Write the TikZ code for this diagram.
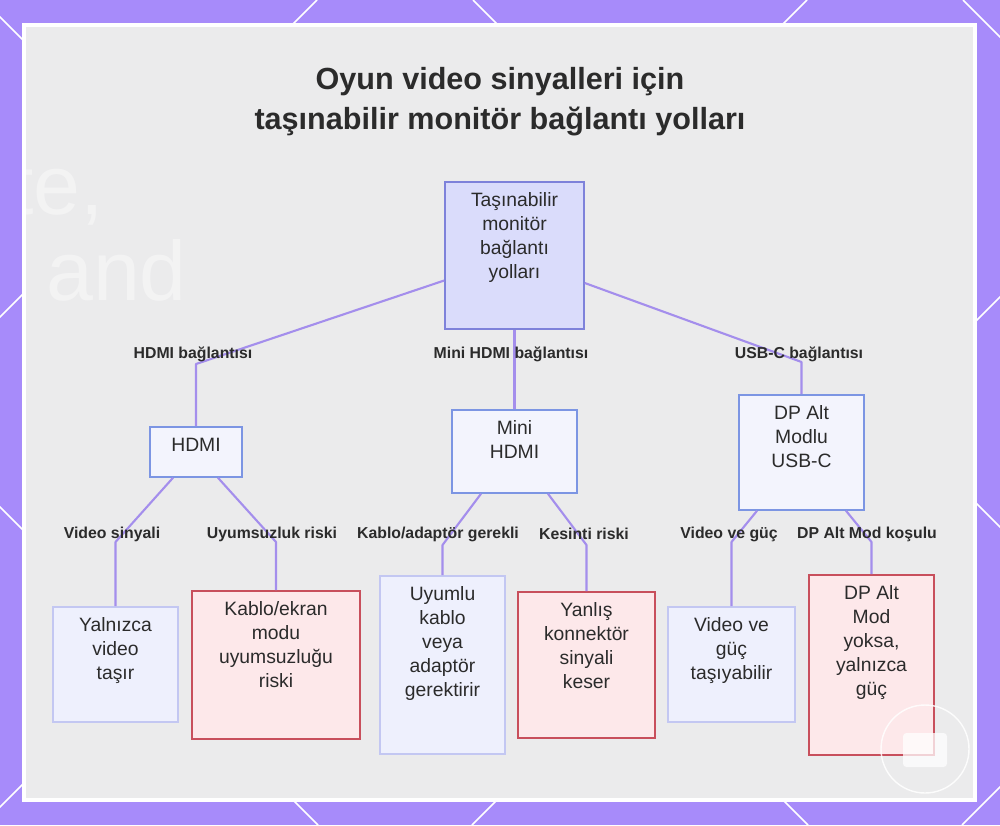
\documentclass[tikz,border=0pt]{standalone}
\usepackage{fontspec}
\setmainfont{Liberation Sans}
\usetikzlibrary{calc}
\definecolor{bgpurple}{HTML}{A78BFA}
\definecolor{panelgray}{HTML}{EBEBEC}
\definecolor{edgec}{HTML}{A48EEC}
\definecolor{rootfill}{HTML}{DADCFB}
\definecolor{rootline}{HTML}{7E82DA}
\definecolor{midfill}{HTML}{F3F4FD}
\definecolor{midline}{HTML}{7C95E3}
\definecolor{okfill}{HTML}{EEF0FD}
\definecolor{okline}{HTML}{C3C7F2}
\definecolor{riskfill}{HTML}{FDE8EA}
\definecolor{riskline}{HTML}{C84F5C}
\definecolor{txt}{HTML}{2B2B2B}
\newcommand{\boxtext}[3]{\parbox[c][#2][t]{#1}{\centering\fontsize{11}{13.6}\selectfont\rule{0pt}{14pt}#3}}
\tikzset{
  edge/.style={draw=edgec, line width=1.2pt, line join=round},
  rootbox/.style={draw=rootline, fill=rootfill, line width=0.9pt, inner sep=0pt, text=txt},
  midbox/.style={draw=midline, fill=midfill, line width=0.9pt, inner sep=0pt, text=txt},
  okbox/.style={draw=okline, fill=okfill, line width=0.9pt, inner sep=0pt, text=txt},
  riskbox/.style={draw=riskline, fill=riskfill, line width=0.9pt, inner sep=0pt, text=txt},
  elabel/.style={font=\bfseries\fontsize{9}{11}\selectfont, text=txt, inner sep=1pt},
}
\begin{document}
\begin{tikzpicture}[x=0.02cm, y=-0.02cm]
    \useasboundingbox (0,0) rectangle (1000,825);
    %% background
    \fill[bgpurple] (0,0) rectangle (1000,825);
    \begin{scope}
      \clip (0,0) rectangle (1000,825);
      \foreach \c in {317,807,1297,1787}
        \draw[white, line width=0.9pt] (\c,0) -- ($(\c,0)+(-825,825)$);
      \foreach \c in {-507,-17,473,963}
        \draw[white, line width=0.9pt] (\c,0) -- ($(\c,0)+(825,825)$);
    \end{scope}
    \draw[white, line width=2.3pt, fill=panelgray] (24,25) rectangle (975,800);
    \begin{scope}
      \clip (26,27) rectangle (973,798);
      \node[anchor=base west, text=white, opacity=0.4, font=\fontsize{48}{48}\selectfont] (bgand) at (40,300) {and};
      \node[anchor=base west, text=white, opacity=0.4, font=\fontsize{48}{48}\selectfont] (bgte) at (4,214) {te,};
    \end{scope}
    %% title
    \node[align=center, text=txt, font=\bfseries\fontsize{17.4}{22.7}\selectfont] (title) at (500,102)
      {Oyun video sinyalleri için\\taşınabilir monitör bağlantı yolları};
    %% boxes
    \node[rootbox] (root) at (514.5,255.5) {\boxtext{2.78cm}{2.94cm}{Taşınabilir\\monitör\\bağlantı\\yolları}};
    \node[midbox] (hdmi) at (196,452) {\boxtext{1.84cm}{1.0cm}{HDMI}};
    \node[midbox] (mini) at (514.5,451.5) {\boxtext{2.5cm}{1.66cm}{Mini\\HDMI}};
    \node[midbox] (dpalt) at (801.5,452.5) {\boxtext{2.5cm}{2.3cm}{DP Alt\\Modlu\\USB-C}};
    \node[okbox] (yaln) at (115.5,664.5) {\boxtext{2.5cm}{2.3cm}{Yalnızca\\video\\taşır}};
    \node[riskbox] (kablo) at (276,665) {\boxtext{3.36cm}{2.96cm}{Kablo/ekran\\modu\\uyumsuzluğu\\riski}};
    \node[okbox] (uyumlu) at (442.5,665) {\boxtext{2.5cm}{3.56cm}{Uyumlu\\kablo\\veya\\adaptör\\gerektirir}};
    \node[riskbox] (yanlis) at (586.5,665) {\boxtext{2.74cm}{2.92cm}{Yanlış\\konnektör\\sinyali\\keser}};
    \node[okbox] (videog) at (731.5,664.5) {\boxtext{2.54cm}{2.3cm}{Video ve\\güç\\taşıyabilir}};
    \node[riskbox] (dpmod) at (871.5,665) {\boxtext{2.5cm}{3.6cm}{DP Alt\\Mod\\yoksa,\\yalnızca\\güç}};
    %% bends
    \coordinate (bhdmi) at (196,364);
    \coordinate (bdpalt) at (801.5,362);
    \coordinate (byaln) at (115.5,542);
    \coordinate (bkablo) at (276,542);
    \coordinate (buyumlu) at (442.5,545);
    \coordinate (byanlis) at (586.5,545);
    \coordinate (bvideog) at (731.5,542);
    \coordinate (bdpmod) at (871.5,542);
    %% connectors
    \draw[edge] ($(root.west)+(0,25)$) -- (bhdmi) -- (hdmi.north);
    \draw[edge] (root.south) -- (mini.north);
    \draw[edge] ($(root.east)+(0,27.5)$) -- (bdpalt) -- (dpalt.north);
    \draw[edge] ($(hdmi.south)+(-23,0)$) -- (byaln) -- (yaln.north);
    \draw[edge] ($(hdmi.south)+(22,0)$) -- (bkablo) -- (kablo.north);
    \draw[edge] ($(mini.south)+(-33.5,0)$) -- (buyumlu) -- (uyumlu.north);
    \draw[edge] ($(mini.south)+(33.5,0)$) -- (byanlis) -- (yanlis.north);
    \draw[edge] ($(dpalt.south)+(-44.5,0)$) -- (bvideog) -- (videog.north);
    \draw[edge] ($(dpalt.south)+(44.5,0)$) -- (bdpmod) -- (dpmod.north);
    %% edge labels
    \node[elabel] (lhdmi) at (193,354) {HDMI bağlantısı};
    \node[elabel] (lmini) at (511,354) {Mini HDMI bağlantısı};
    \node[elabel] (lusbc) at (799,354) {USB-C bağlantısı};
    \node[elabel] (lyaln) at (112,534) {Video sinyali};
    \node[elabel] (lkablo) at (272,534) {Uyumsuzluk riski};
    \node[elabel] (luyumlu) at (438,534) {Kablo/adaptör gerekli};
    \node[elabel] (lyanlis) at (584,534) {Kesinti riski};
    \node[elabel] (lvideog) at (729,534) {Video ve güç};
    \node[elabel] (ldpmod) at (867,534) {DP Alt Mod koşulu};
    %% watermark
    \draw[white, line width=0.8pt, opacity=0.85] (925,749) circle (44);
    \fill[white, opacity=0.75, rounded corners=2pt] (903,733) rectangle (947,767);
\end{tikzpicture}
\end{document}
